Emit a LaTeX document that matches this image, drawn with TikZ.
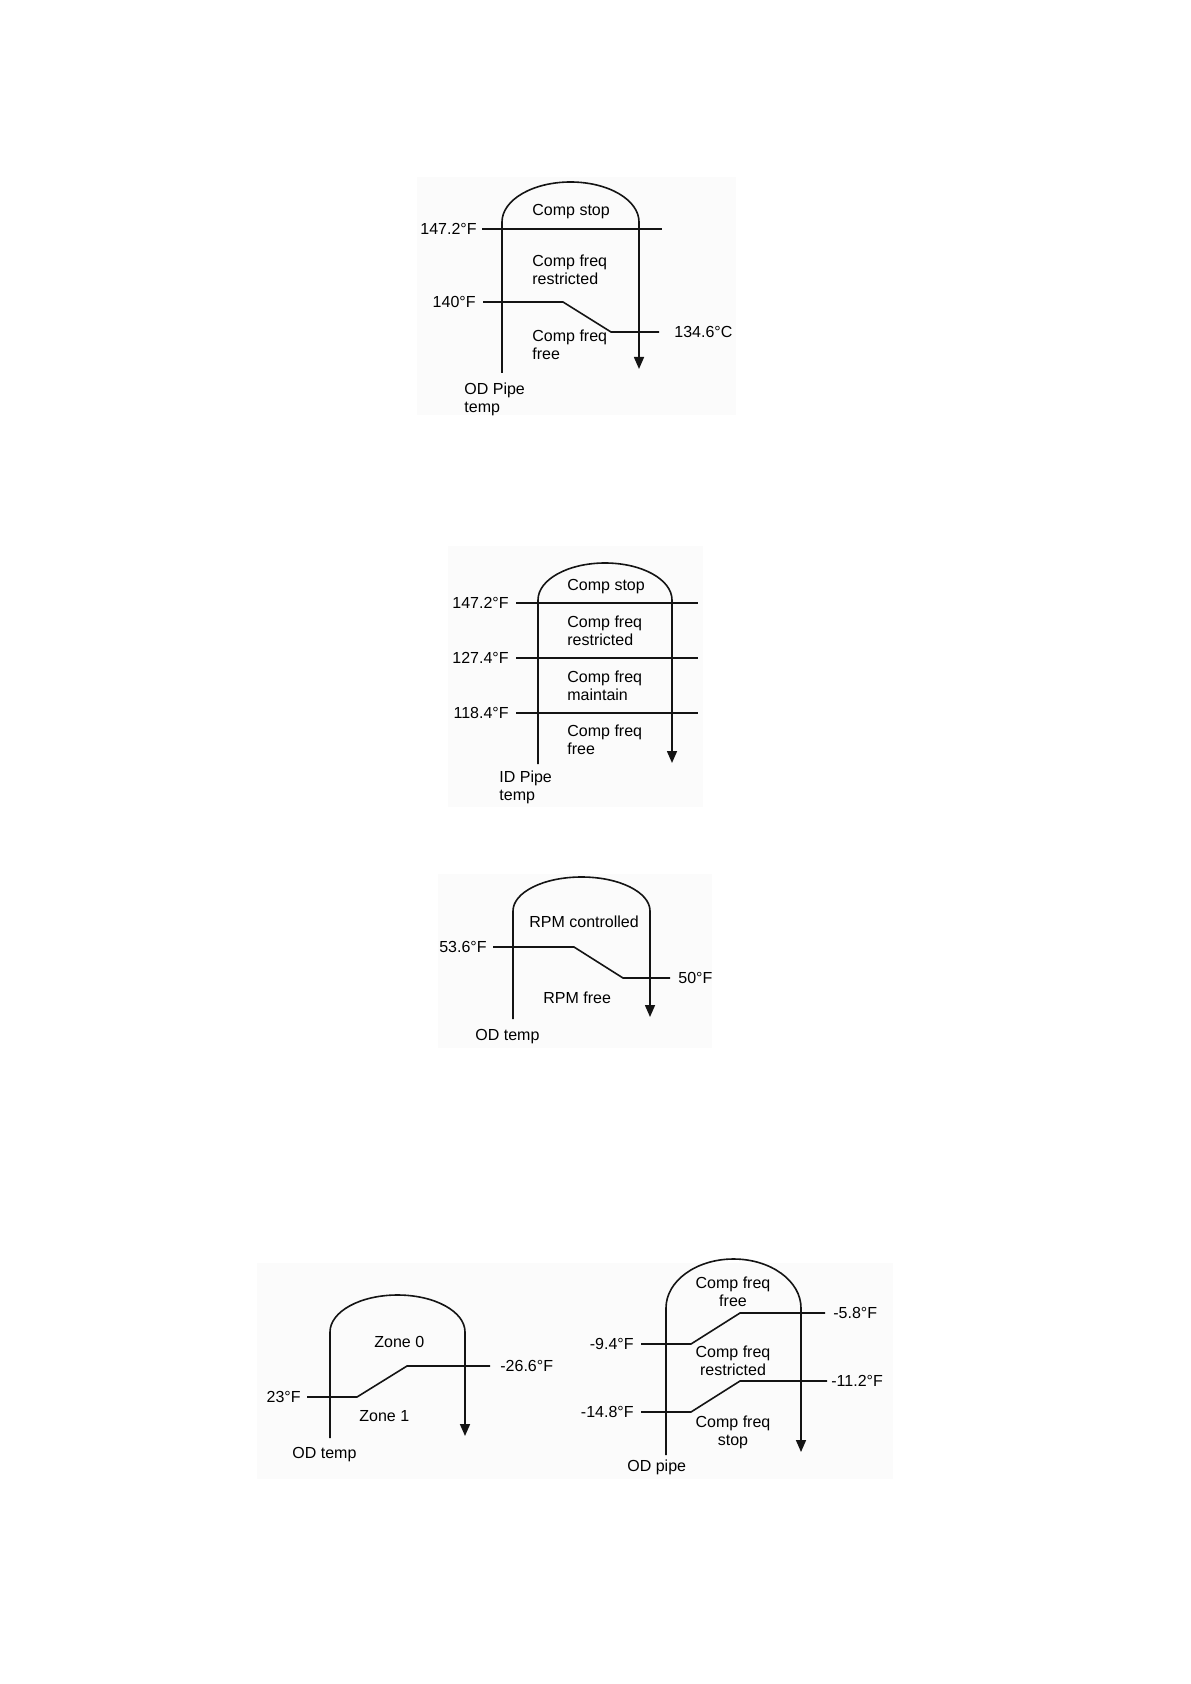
\documentclass[tikz,border=0pt]{standalone}
\usepackage{fontspec}
\setmainfont{Liberation Sans}
\usetikzlibrary{positioning,arrows.meta}
\definecolor{panelgray}{RGB}{251,251,251}
\definecolor{inkblack}{RGB}{20,20,20}

\begin{document}
\begin{tikzpicture}[
  x=0.5pt,y=-0.5pt,
  panel/.style={fill=panelgray,draw=none},
  axis/.style={draw=inkblack,line width=0.8pt,-{Triangle[width=5pt,length=6pt]}},
  lvl/.style={draw=inkblack,line width=0.8pt},
  zone/.style={inner sep=0pt,align=left,anchor=west,font=\fontsize{8}{9.2}\selectfont},
  val/.style={inner sep=0pt,font=\fontsize{8}{9.2}\selectfont}
]
\useasboundingbox (0,0) rectangle (1190,1684);
\fill[panel] (417,177) rectangle (736,415);
\fill[panel] (448,546) rectangle (703,807);
\fill[panel] (438,874) rectangle (712,1048);
\fill[panel] (257,1263) rectangle (893,1479);

% OD pipe temp
\coordinate (ax1a) at (502,373);
\coordinate (ax1b) at (639,369);
\draw[axis] (ax1a) -- (502,222) arc[start angle=180,end angle=0,x radius=34.25pt,y radius=20pt] -- (ax1b);
\coordinate (p1a) at (482,229);
\coordinate (p1b) at (662,229);
\draw[lvl] (p1a) -- (p1b);
\node[val,left=2.5pt of p1a] (v1a) {147.2°F};
\coordinate (p1c) at (483,302);
\coordinate (p1d) at (659,332);
\draw[lvl] (p1c) -- (563,302) -- (611,332) -- (p1d);
\node[val,left=3.5pt of p1c] (v1c) {140°F};
\node[val,right=7.5pt of p1d] (v1d) {134.6°C};
\node[zone] (z1a) at (532,212) {Comp stop};
\node[zone] (z1b) at (532,270) {Comp freq\\restricted};
\node[zone] (z1c) at (532,345) {Comp freq\\free};
\node[zone] (n1) at (464,399.5) {OD Pipe\\temp};

% ID pipe temp
\coordinate (ax2a) at (538,764);
\coordinate (ax2b) at (672,763);
\draw[axis] (ax2a) -- (538,600) arc[start angle=180,end angle=0,x radius=33.5pt,y radius=18.5pt] -- (ax2b);
\coordinate (p2a) at (516,603);
\coordinate (p2b) at (698,603);
\coordinate (p2c) at (516,658);
\coordinate (p2d) at (698,658);
\coordinate (p2e) at (516,713);
\coordinate (p2f) at (698,713);
\draw[lvl] (p2a) -- (p2b);
\draw[lvl] (p2c) -- (p2d);
\draw[lvl] (p2e) -- (p2f);
\node[val,left=3.5pt of p2a] (v2a) {147.2°F};
\node[val,left=3.5pt of p2c] (v2c) {127.4°F};
\node[val,left=3.5pt of p2e] (v2e) {118.4°F};
\node[zone] (z2a) at (567,587) {Comp stop};
\node[zone] (z2b) at (567,630.5) {Comp freq\\restricted};
\node[zone] (z2c) at (567,685.5) {Comp freq\\maintain};
\node[zone] (z2d) at (567,739.5) {Comp freq\\free};
\node[zone] (n2) at (499,787.5) {ID Pipe\\temp};

% OD temp, fan RPM
\coordinate (ax3a) at (513,1019);
\coordinate (ax3b) at (650,1017);
\draw[axis] (ax3a) -- (513,911) arc[start angle=180,end angle=0,x radius=34.25pt,y radius=17pt] -- (ax3b);
\coordinate (p3a) at (493,947);
\coordinate (p3b) at (670,978);
\draw[lvl] (p3a) -- (574,947) -- (623,978) -- (p3b);
\node[val,left=3pt of p3a] (v3a) {53.6°F};
\node[val,right=4pt of p3b] (v3b) {50°F};
\node[zone] (z3a) at (529,922) {RPM controlled};
\node[zone] (z3b) at (543,998) {RPM free};
\node[zone] (n3) at (475,1037) {OD temp};

% OD temp, zones
\coordinate (ax4a) at (330,1438);
\coordinate (ax4b) at (465,1436);
\draw[axis] (ax4a) -- (330,1332) arc[start angle=180,end angle=0,x radius=33.75pt,y radius=18.5pt] -- (ax4b);
\coordinate (p4a) at (307,1397);
\coordinate (p4b) at (490,1366);
\draw[lvl] (p4a) -- (357,1397) -- (407,1366) -- (p4b);
\node[val,left=3pt of p4a] (v4a) {23°F};
\node[val,right=5pt of p4b] (v4b) {-26.6°F};
\node[zone] (z4a) at (374,1342) {Zone 0};
\node[zone] (z4b) at (359,1416) {Zone 1};
\node[zone] (n4) at (292,1455) {OD temp};

% OD pipe, low side
\coordinate (ax5a) at (666,1455);
\coordinate (ax5b) at (801,1452);
\draw[axis] (ax5a) -- (666,1308) arc[start angle=180,end angle=0,x radius=33.75pt,y radius=24.5pt] -- (ax5b);
\coordinate (p5a) at (641,1344);
\coordinate (p5b) at (825,1313);
\coordinate (p5c) at (641,1412);
\coordinate (p5d) at (827,1381);
\draw[lvl] (p5a) -- (691,1344) -- (740,1313) -- (p5b);
\draw[lvl] (p5c) -- (691,1412) -- (740,1381) -- (p5d);
\node[val,left=3.5pt of p5a] (v5a) {-9.4°F};
\node[val,right=4pt of p5b] (v5b) {-5.8°F};
\node[val,left=3.5pt of p5c] (v5c) {-14.8°F};
\node[val,right=2pt of p5d] (v5d) {-11.2°F};
\node[zone,align=center,anchor=center] (z5a) at (733,1292) {Comp freq\\free};
\node[zone,align=center,anchor=center] (z5b) at (733,1360.5) {Comp freq\\restricted};
\node[zone,align=center,anchor=center] (z5c) at (733,1432.5) {Comp freq\\stop};
\node[zone] (n5) at (627,1467) {OD pipe};
\end{tikzpicture}
\end{document}
